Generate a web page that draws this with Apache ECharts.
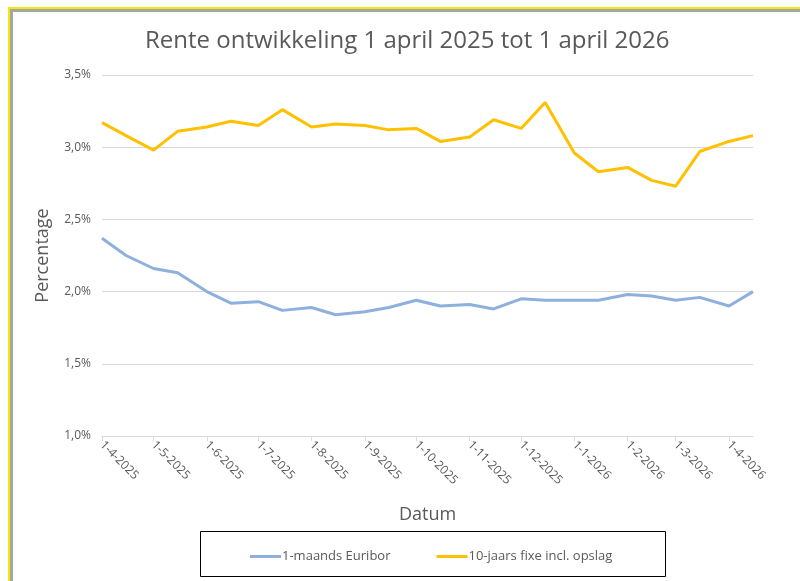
<!DOCTYPE html>
<html>
<head>
    <meta charset="utf-8">
    <script src="https://cdn.jsdelivr.net/npm/echarts@6/dist/echarts.min.js"></script>
    <style>
        body { margin: 0; background: #fff; }
        #frame {
            position: absolute; left: 8px; top: 7px; width: 800px; height: 581px;
            border-left: 2px solid #f2ea00; border-top: 2px solid #f2ea00;
        }
        #frame div {
            width: 100%; height: 100%;
            border-left: 3px solid #a6a6a6; border-top: 3px solid #a6a6a6;
        }
        #main { position: absolute; left: 0; top: 0; width: 800px; height: 581px; }
    </style>
</head>
<body>
<div id="frame"><div></div></div>
<div id="main"></div>
<script type="text/javascript">
    // datums: 1e en 15e van elke maand
    var datums = ['2025-04-01','2025-04-15','2025-05-01','2025-05-15','2025-06-01','2025-06-15',
        '2025-07-01','2025-07-15','2025-08-01','2025-08-15','2025-09-01','2025-09-15',
        '2025-10-01','2025-10-15','2025-11-01','2025-11-15','2025-12-01','2025-12-15',
        '2026-01-01','2026-01-15','2026-02-01','2026-02-15','2026-03-01','2026-03-15',
        '2026-04-01','2026-04-15'];
    var euribor = [2.37,2.25,2.16,2.13,2.00,1.92,1.93,1.87,1.89,1.84,1.86,1.89,
        1.94,1.90,1.91,1.88,1.95,1.94,1.94,1.94,1.98,1.97,1.94,1.96,1.90,2.00];
    var fixe = [3.17,3.08,2.98,3.11,3.14,3.18,3.15,3.26,3.14,3.16,3.15,3.12,
        3.13,3.04,3.07,3.19,3.13,3.31,2.96,2.83,2.86,2.77,2.73,2.97,3.04,3.08];
    var yTicks = [1.0, 1.5, 2.0, 2.5, 3.0, 3.5];

    function pairs(vals) {
        return datums.map(function (d, i) { return [d, vals[i]]; });
    }

    var grijs = '#595959';
    var myChart = echarts.init(document.getElementById('main'));
    var option = {
        animation: false,
        title: {
            text: 'Rente ontwikkeling 1 april 2025 tot 1 april 2026',
            left: 140,
            top: 24,
            textStyle: {
                color: grijs,
                fontSize: 24,
                fontWeight: 'normal',
                fontFamily: 'Open Sans'
            }
        },
        grid: { left: 102, right: 47, top: 75, bottom: 145 },
        graphic: [{
            type: 'rect',
            shape: { x: 200.5, y: 531.5, width: 465, height: 45 },
            style: { fill: 'none', stroke: '#000', lineWidth: 1 }
        }],
        legend: {
            left: 245,
            top: 545,
            itemGap: 46,
            itemWidth: 31,
            itemHeight: 3,
            icon: 'rect',
            textStyle: { color: grijs, fontSize: 13, fontFamily: 'Open Sans', padding: [0, 0, 0, -4] },
            data: ['1-maands Euribor', '10-jaars fixe incl. opslag']
        },
        xAxis: {
            type: 'time',
            min: '2025-04-01',
            max: '2026-04-15',
            minInterval: 28 * 86400000,
            maxInterval: 31 * 86400000,
            name: 'Datum',
            nameLocation: 'middle',
            nameGap: 70,
            nameTextStyle: { color: grijs, fontSize: 18, fontFamily: 'Open Sans' },
            axisLine: { lineStyle: { color: '#d9d9d9' } },
            axisTick: { show: true, length: 5, lineStyle: { color: '#d9d9d9' } },
            splitLine: { show: false },
            axisLabel: {
                rotate: -45,
                margin: 7,
                color: grijs,
                fontSize: 12,
                fontFamily: 'Open Sans',
                formatter: '{d}-{M}-{yyyy}',
                showMaxLabel: false
            }
        },
        yAxis: {
            type: 'value',
            min: yTicks[0],
            max: yTicks[yTicks.length - 1],
            interval: 0.5,
            name: 'Percentage',
            nameLocation: 'middle',
            nameGap: 50,
            nameTextStyle: { color: grijs, fontSize: 18, fontFamily: 'Open Sans' },
            axisLine: { show: false },
            axisTick: { show: false },
            splitLine: { lineStyle: { color: '#d9d9d9' } },
            axisLabel: {
                color: grijs,
                fontSize: 12,
                fontFamily: 'Open Sans',
                margin: 11,
                formatter: function (v) { return v.toFixed(1).replace('.', ',') + '%'; }
            }
        },
        series: [
            {
                name: '1-maands Euribor',
                type: 'line',
                data: pairs(euribor),
                showSymbol: false,
                color: '#8eb0dc',
                lineStyle: { width: 3, color: '#8eb0dc' }
            },
            {
                name: '10-jaars fixe incl. opslag',
                type: 'line',
                data: pairs(fixe),
                showSymbol: false,
                color: '#ffc000',
                lineStyle: { width: 3, color: '#ffc000' }
            }
        ]
    };
    myChart.setOption(option);
</script>
</body>
</html>
